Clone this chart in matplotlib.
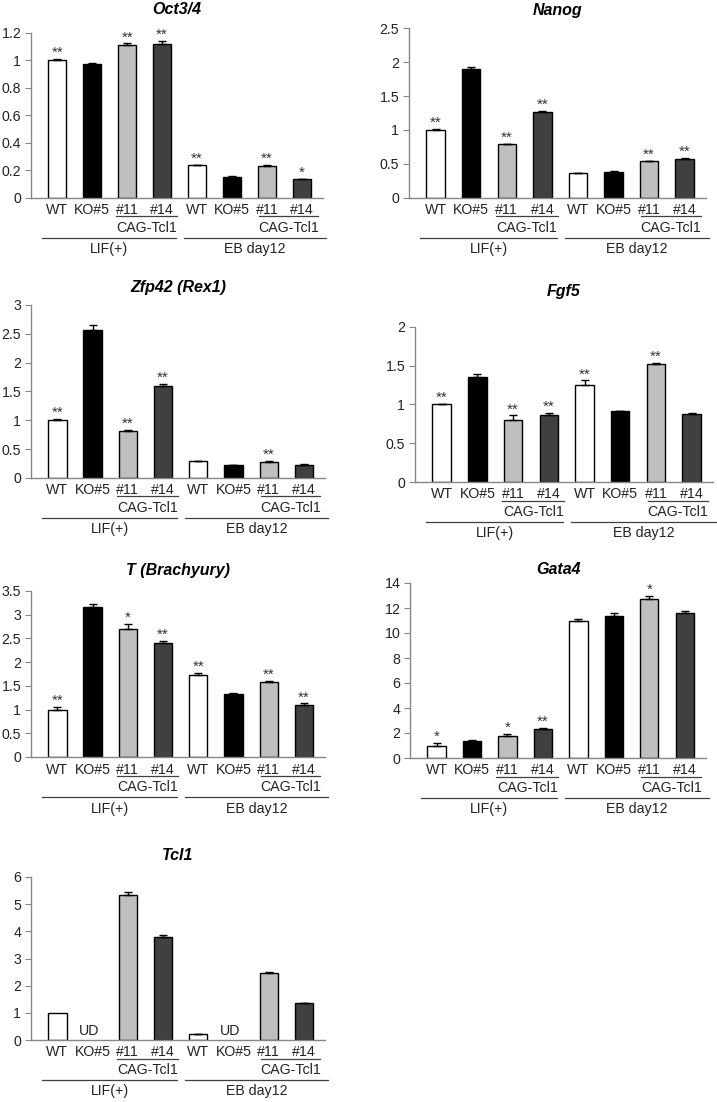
import numpy as np
import matplotlib
matplotlib.use("Agg")
import matplotlib.pyplot as plt
from matplotlib.lines import Line2D
from matplotlib.transforms import ScaledTranslation

plt.rcParams['font.family'] = ['Liberation Sans', 'DejaVu Sans']

W, H = 717, 1102
PT = 0.72  # points per pixel at dpi=100

conditions = ["WT", "KO#5", "#11", "#14", "WT", "KO#5", "#11", "#14"]
bar_colors = ["white", "black", "#bfbfbf", "#404040"] * 2

genes = ["Oct3/4", "Nanog", "Zfp42 (Rex1)", "Fgf5", "T (Brachyury)", "Gata4", "Tcl1"]

oct_vals = [1.0, 0.975, 1.11, 1.12, 0.24, 0.155, 0.235, 0.135]
oct_err = [0.01, 0.01, 0.015, 0.02, 0.003, 0.002, 0.005, 0.006]
oct_sig = ["**", "", "**", "**", "**", "", "**", "*"]

nanog_vals = [1.0, 1.9, 0.79, 1.27, 0.37, 0.38, 0.54, 0.575]
nanog_err = [0.02, 0.02, 0.01, 0.01, 0.004, 0.01, 0.01, 0.01]
nanog_sig = ["**", "", "**", "**", "", "", "**", "**"]

zfp_vals = [1.0, 2.56, 0.81, 1.59, 0.29, 0.22, 0.28, 0.23]
zfp_err = [0.02, 0.09, 0.02, 0.04, 0.01, 0.01, 0.01, 0.01]
zfp_sig = ["**", "", "**", "**", "", "", "**", ""]

fgf_vals = [1.0, 1.36, 0.80, 0.86, 1.25, 0.91, 1.52, 0.88]
fgf_err = [0.005, 0.03, 0.06, 0.03, 0.06, 0.003, 0.02, 0.01]
fgf_sig = ["**", "", "**", "**", "**", "", "**", ""]

t_vals = [1.0, 3.17, 2.70, 2.40, 1.73, 1.32, 1.59, 1.10]
t_err = [0.05, 0.05, 0.10, 0.05, 0.04, 0.02, 0.01, 0.03]
t_sig = ["**", "", "*", "**", "**", "", "**", "**"]

gata_vals = [1.0, 1.4, 1.8, 2.35, 10.95, 11.35, 12.75, 11.6]
gata_err = [0.2, 0.05, 0.1, 0.05, 0.15, 0.25, 0.2, 0.15]
gata_sig = ["*", "", "*", "**", "", "", "*", ""]

tcl_vals = [1.0, 0.0, 5.35, 3.78, 0.23, 0.0, 2.48, 1.35]
tcl_err = [0.0, 0.0, 0.1, 0.1, 0.005, 0.0, 0.02, 0.02]
tcl_sig = [""] * 8
tcl_ud = ["", "UD", "", "", "", "UD", "", ""]

values = [oct_vals, nanog_vals, zfp_vals, fgf_vals, t_vals, gata_vals, tcl_vals]
errors = [oct_err, nanog_err, zfp_err, fgf_err, t_err, gata_err, tcl_err]
sigs = [oct_sig, nanog_sig, zfp_sig, fgf_sig, t_sig, gata_sig, tcl_sig]
yticks = [np.arange(0, 1.21, 0.2), np.arange(0, 2.51, 0.5), np.arange(0, 3.01, 0.5),
          np.arange(0, 2.01, 0.5), np.arange(0, 3.51, 0.5), np.arange(0, 14.1, 2),
          np.arange(0, 6.1, 1)]

# axes boxes in pixels: left, right, top, bottom, title offset above top
boxes = [(31, 323, 33, 198, 23), (409, 706, 28, 198, 18),
         (31, 325, 305, 478, 17), (415, 713, 327, 482, 35),
         (31, 325, 591, 757, 21), (410, 706, 583, 758, 13),
         (31, 325, 877, 1040, 22)]

fig = plt.figure(figsize=(W / 100, H / 100), dpi=100)
axis_gray = "#868686"
line_gray = "#404040"
FS = 10.2


def fmt(v):
    s = ("%.1f" % v).rstrip("0").rstrip(".")
    return s


def hline(ax, x0, x1, dy):
    tr = ax.get_xaxis_transform() + ScaledTranslation(0, -dy / 100, fig.dpi_scale_trans)
    ax.add_line(Line2D([x0, x1], [0, 0], transform=tr, color=line_gray, lw=0.9, clip_on=False))


def under_text(ax, x, dy, s):
    ax.annotate(s, xy=(x, 0), xycoords=("data", "axes fraction"), xytext=(0, -dy * PT),
                textcoords="offset points", ha="center", va="center", fontsize=FS,
                color="#222222", annotation_clip=False)


for k, (l, r, t, b, toff) in enumerate(boxes):
    ax = fig.add_axes([l / W, 1 - b / H, (r - l) / W, (b - t) / H])
    x = np.arange(8)
    vals = np.array(values[k])
    errs = np.array(errors[k])
    lws = [1.0 if v > 0 else 0.0 for v in vals]
    ax.bar(x, vals, width=0.52, color=bar_colors, edgecolor="black", linewidth=lws, zorder=2)
    has_err = errs > 0
    ax.errorbar(x[has_err], vals[has_err], yerr=[np.zeros(has_err.sum()), errs[has_err]],
                fmt="none", ecolor="black", elinewidth=1.0, capsize=2.8, capthick=1.0, zorder=3)
    ymax = yticks[k][-1]
    ax.set_ylim(0, ymax)
    ax.set_xlim(-0.75, 7.6)
    ax.set_yticks(yticks[k])
    ax.set_yticklabels([fmt(v) for v in yticks[k]])
    ax.set_xticks([])
    for side in ["top", "right"]:
        ax.spines[side].set_visible(False)
    for side in ["left", "bottom"]:
        ax.spines[side].set_color(axis_gray)
        ax.spines[side].set_linewidth(1.0)
    ax.tick_params(axis="y", length=4, color=axis_gray, labelsize=FS, labelcolor="#222222", pad=3)

    for i in range(8):
        if sigs[k][i]:
            ax.annotate(sigs[k][i], xy=(i, vals[i] + errs[i]), xytext=(0, 2 * PT),
                        textcoords="offset points", ha="center", va="baseline",
                        fontsize=11, color="#333333")
        under_text(ax, i, 12.5, conditions[i])
    if k == 6:
        for i in range(8):
            if tcl_ud[i]:
                ax.annotate(tcl_ud[i], xy=(i - 0.1, 0), xytext=(0, 9 * PT),
                            textcoords="offset points", ha="center", va="center",
                            fontsize=FS, color="#222222")

    # group brackets
    hline(ax, 1.69, 3.43, 18.5)
    hline(ax, 5.77, 7.46, 18.5)
    under_text(ax, 2.57, 30, "CAG-Tcl1")
    under_text(ax, 6.62, 30, "CAG-Tcl1")
    hline(ax, -0.43, 3.4, 40)
    hline(ax, 3.63, 7.69, 40)
    under_text(ax, 1.49, 51.5, "LIF(+)")
    under_text(ax, 5.66, 51.5, "EB day12")

    ax.annotate(genes[k], xy=(0.5, 1), xycoords="axes fraction", xytext=(0, toff * PT),
                textcoords="offset points", ha="center", va="center", fontsize=11.5,
                fontweight="bold", fontstyle="italic", color="black")

fig.savefig("out.png", dpi=100, facecolor="white")
